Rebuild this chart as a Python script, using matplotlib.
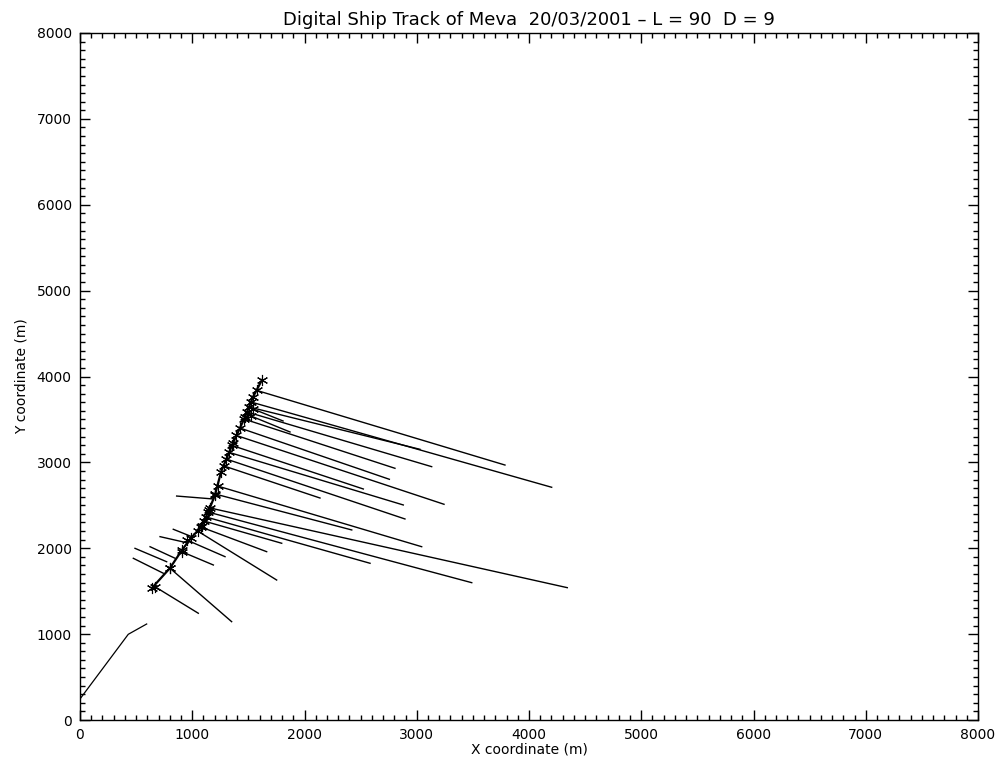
import matplotlib
matplotlib.use("Agg")
import matplotlib.pyplot as plt
from matplotlib.ticker import MultipleLocator

# Approach leg of the ship (m)
approach_x = [0, 430, 594]
approach_y = [245, 998, 1118]

# Main digitised ship track (m)
track_x = [641, 802, 909, 989, 1087, 1149, 1203, 1256, 1363, 1470, 1541, 1621]
track_y = [1537, 1770, 1980, 2119, 2259, 2445, 2620, 2888, 3226, 3528, 3761, 3959]

# Crest lines drawn from track positions (start -> end, m)
crest_x0 = [1577, 1523, 1506, 1488, 1461, 1425, 1394, 1354, 1327, 1303, 1225, 1203,
            1158, 1140, 1123, 1105, 1078, 1047, 951, 906, 802, 668, 1541, 1523, 1283,
            490, 475, 624, 713, 831, 861]
crest_y0 = [3837, 3703, 3645, 3587, 3505, 3400, 3313, 3197, 3117, 3039, 2725, 2632,
            2469, 2422, 2364, 2317, 2247, 2201, 2096, 1960, 1767, 1552, 3622, 3540, 2958,
            1999, 1883, 2018, 2135, 2221, 2608]
crest_x1 = [3786, 4202, 3029, 3133, 2806, 2756, 3243, 2524, 2880, 2895, 3044, 2421,
            4341, 3490, 2584, 1797, 1663, 1752, 1292, 1188, 1351, 1054, 1809, 1871, 2138,
            772, 742, 846, 962, 995, 1185]
crest_y1 = [2969, 2710, 3152, 2950, 2931, 2803, 2512, 2690, 2504, 2341, 2018, 2213,
            1541, 1599, 1825, 2058, 1960, 1630, 1902, 1805, 1145, 1243, 3482, 3354, 2585,
            1843, 1709, 1884, 2061, 2135, 2574]

# Ship positions marked along the track (m)
pos_x = track_x + crest_x0[:25]
pos_y = track_y + crest_y0[:25]

title = "Digital Ship Track of Meva  20/03/2001 \u2013 L = 90  D = 9"

fig = plt.figure(figsize=(10.02, 7.68), dpi=100)
ax = fig.add_axes([80 / 1002, 48 / 768, 898 / 1002, 687 / 768])

ax.plot(approach_x, approach_y, color="black", lw=0.9)
ax.plot(track_x, track_y, color="black", lw=1.6)
for x0, y0, x1, y1 in zip(crest_x0, crest_y0, crest_x1, crest_y1):
    ax.plot([x0, x1], [y0, y1], color="black", lw=1.0)
ax.plot(pos_x, pos_y, linestyle="none", marker=(6, 2, 0), markersize=8,
        markeredgewidth=0.8, color="black")

ax.set_xlim(0, 8000)
ax.set_ylim(0, 8000)
ax.xaxis.set_major_locator(MultipleLocator(1000))
ax.yaxis.set_major_locator(MultipleLocator(1000))
ax.xaxis.set_minor_locator(MultipleLocator(100))
ax.yaxis.set_minor_locator(MultipleLocator(100))
ax.tick_params(which="both", direction="in", top=True, right=True,
               labelsize=10, width=1, color="black")
ax.tick_params(which="major", length=7, pad=6)
ax.tick_params(which="minor", length=3.5)
for s in ax.spines.values():
    s.set_linewidth(1.0)

ax.set_xlabel("X coordinate (m)", fontsize=10, labelpad=0)
ax.set_ylabel("Y coordinate (m)", fontsize=10, labelpad=6)
ax.set_title(title, fontsize=13, pad=6)

fig.savefig("out.png", dpi=100, facecolor="white")
